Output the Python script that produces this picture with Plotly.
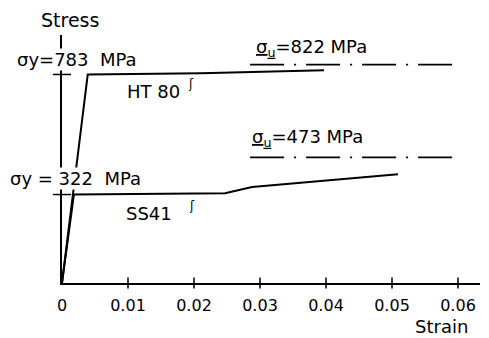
import plotly.graph_objects as go

# ---- data ----
ht80_strain = [0.0, 0.0039, 0.021, 0.0397]
ht80_stress = [0, 785, 790, 801]

ss41_strain = [0.0, 0.0018, 0.0247, 0.0288, 0.0509]
ss41_stress = [0, 333, 338, 361, 409]

yield_stress_marks = [785, 333]
ultimate_ht80 = 822
ultimate_ss41 = 473
ultimate_strain_span = [0.0285, 0.0592]

x_tickvals = [0, 0.01, 0.02, 0.03, 0.04, 0.05, 0.06]
x_ticktext = ["0", "0.01", "0.02", "0.03", "0.04", "0.05", "0.06"]
x_tickmarks = [0.01, 0.02, 0.03, 0.04, 0.05, 0.06]

FONT = "DejaVu Sans"
W, H = 489, 338
L, R, T, B = 62, 9, 35, 55
PX_PER_STRAIN = 6600.0
MPA_PER_PX = 783 / 208.0
pw, ph = W - L - R, H - T - B
xmax = pw / PX_PER_STRAIN
ymax = ph * MPA_PER_PX

fig = go.Figure()
line_style = dict(color="black", width=2)
fig.add_trace(go.Scatter(x=ht80_strain, y=ht80_stress, mode="lines", line=line_style, cliponaxis=False))
fig.add_trace(go.Scatter(x=ss41_strain, y=ss41_stress, mode="lines", line=line_style, cliponaxis=False))

dash = "34px,10px,2px,10px"
for u in (ultimate_ht80, ultimate_ss41):
    fig.add_trace(go.Scatter(x=ultimate_strain_span, y=[u, u], mode="lines",
                             line=dict(color="black", width=1.6, dash=dash)))

# cross tick marks on x axis
fig.add_trace(go.Scatter(x=x_tickmarks, y=[0] * len(x_tickmarks), mode="markers",
                         marker=dict(symbol="line-ns", size=8, line=dict(color="black", width=1.5)),
                         cliponaxis=False))

def px2paper(px, py):
    return (px - L) / pw, (H - B - py) / ph

ann = []
def label(text, px, py, size=18, bg=None):
    x, y = px2paper(px, py)
    d = dict(text=text, x=x, y=y, xref="paper", yref="paper", showarrow=False,
             xanchor="center", yanchor="middle", font=dict(family=FONT, size=size, color="black"))
    if bg:
        d.update(bgcolor=bg, borderpad=0)
    ann.append(d)

label("Stress", 70, 20, 19)
label("σy=783\u00a0\u00a0MPa", 77, 59, 18, bg="white")
label("HT\u00a080", 153, 91, 18)
label("ʃ", 191, 84, 12)
label("<u>σ<sub>u</sub></u>=822\u00a0MPa", 311, 48, 18)
label("<u>σ<sub>u</sub></u>=473\u00a0MPa", 307, 138, 18)
label("σy\u00a0=\u00a0322\u00a0\u00a0MPa", 75, 179, 18, bg="white")
label("SS41", 149, 213, 18)
label("ʃ", 192, 206, 12)
label("Strain", 441, 326, 18)

fig.update_layout(
    width=W, height=H, margin=dict(l=L, r=R, t=T, b=B, autoexpand=False),
    plot_bgcolor="white", paper_bgcolor="white", showlegend=False,
    annotations=ann,
)

# yield cross marks on y axis
fig.add_trace(go.Scatter(x=[0, 0], y=yield_stress_marks, mode="markers",
                         marker=dict(symbol="line-ew", size=13, line=dict(color="black", width=1.5)),
                         cliponaxis=False))

fig.update_xaxes(range=[0, xmax], showline=True, linecolor="black", linewidth=2,
                 showgrid=False, zeroline=False, ticks="", tickvals=x_tickvals, ticktext=x_ticktext,
                 tickfont=dict(family=FONT, size=16, color="black"), ticklabelstandoff=7,
                 automargin=False)
fig.update_yaxes(range=[0, ymax], showline=True, linecolor="black", linewidth=2,
                 showgrid=False, zeroline=False, ticks="", showticklabels=False, automargin=False)

fig.write_html("out.html", config={"displayModeBar": False},
               post_script="document.body.style.margin='0';")
